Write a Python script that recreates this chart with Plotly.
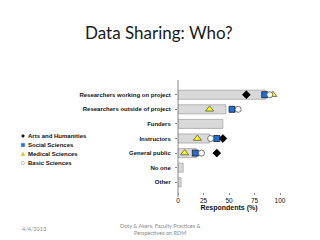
import plotly.graph_objects as go

categories = ["Researchers working on project", "Researchers outside of project", "Funders",
              "Instructors", "General public", "No one", "Other"]
overall = [86, 47, 44, 31, 18, 5, 3]
arts = [67, None, None, 44, 38, None, None]
social = [85, 53, None, 38, 17, None, None]
medical = [93, 31, None, 19, 6.5, None, None]
basic = [90, 59, None, 32, 23, None, None]
x_ticks = [0, 25, 50, 75, 100]

L, R, T, B, W, H = 178, 40, 85, 48, 320, 240
PW, PH = W - L - R, H - T - B


def px(x):
    return (x - L) / PW


def py(y):
    return (H - B - y) / PH


fig = go.Figure()
fig.add_trace(go.Bar(y=categories, x=overall, orientation="h", width=0.62,
                     marker=dict(color="#d9d9d9", line=dict(color="#a6a6a6", width=0.8)),
                     showlegend=False, hoverinfo="skip"))
series = [
    ("Arts and Humanities", arts, "diamond", "#000000", "#000000", 6),
    ("Social Sciences", social, "square", "#1f6fd6", "#1a1a1a", 6),
    ("Medical Sciences", medical, "triangle-up", "#ffff00", "#555555", 7),
    ("Basic Sciences", basic, "circle", "#ffffff", "#555555", 6),
]
for name, vals, sym, fill, edge, sz in series:
    fig.add_trace(go.Scatter(y=categories, x=vals, mode="markers", name=name, showlegend=False,
                             marker=dict(symbol=sym, color=fill, size=sz,
                                         line=dict(color=edge, width=0.8))))

fig.update_layout(
    width=W, height=H,
    margin=dict(l=L, r=R, t=T, b=B),
    paper_bgcolor="white", plot_bgcolor="white",
    font=dict(family="Liberation Sans, Arial", color="#111111"),
    showlegend=False,
    xaxis=dict(range=[0, 100], tickvals=x_ticks, ticks="outside", ticklen=2,
               tickcolor="#888888", showgrid=False, zeroline=False, showline=False,
               tickfont=dict(size=6.5, family="Liberation Sans, Arial", color="#111111"),
               title=dict(text="<b>Respondents (%)</b>", standoff=1,
                          font=dict(size=7, family="Liberation Sans, Arial", color="#111111"))),
    yaxis=dict(autorange="reversed", showline=False,
               ticks="outside", ticklen=2, tickcolor="#888888", showgrid=False,
               tickfont=dict(size=6, family="Liberation Sans, Arial", color="#111111"),
               ticklabelstandoff=3),
    bargap=0.38,
)
fig.update_yaxes(tickvals=categories, ticktext=["<b>%s</b>" % c for c in categories])

# y axis line spanning slightly beyond the plotted rows
fig.add_shape(type="line", xref="paper", yref="paper", x0=0, x1=0, y0=py(197), y1=py(80),
              line=dict(color="#888888", width=1))

# manual compact legend
leg_y = [136, 145, 154, 163]
mx, ms = 23, 1.6
for (name, vals, sym, fill, edge, sz), yy in zip(series, leg_y):
    x0, x1 = px(mx - ms), px(mx + ms)
    y0, y1 = py(yy + ms), py(yy - ms)
    xc, yc = px(mx), py(yy)
    if sym == "square":
        fig.add_shape(type="rect", xref="paper", yref="paper", x0=x0, x1=x1, y0=y0, y1=y1,
                      fillcolor=fill, line=dict(color=fill, width=0.5))
    elif sym == "circle":
        fig.add_shape(type="circle", xref="paper", yref="paper", x0=x0, x1=x1, y0=y0, y1=y1,
                      fillcolor=fill, line=dict(color="#999999", width=0.5))
    elif sym == "diamond":
        path = "M %f %f L %f %f L %f %f L %f %f Z" % (xc, y1, x1, yc, xc, y0, x0, yc)
        fig.add_shape(type="path", xref="paper", yref="paper", path=path,
                      fillcolor=fill, line=dict(color=fill, width=0.5))
    else:
        path = "M %f %f L %f %f L %f %f Z" % (xc, y1, x1, y0, x0, y0)
        fig.add_shape(type="path", xref="paper", yref="paper", path=path,
                      fillcolor="#e0e000", line=dict(color="#b0a000", width=0.5))
    fig.add_annotation(text="<b>%s</b>" % name, xref="paper", yref="paper",
                       x=px(25.5), y=py(yy), xanchor="left", yanchor="middle", showarrow=False,
                       font=dict(size=6, family="Liberation Sans, Arial", color="#111111"))

fig.add_annotation(text="Data Sharing: Who?", xref="paper", yref="paper",
                   x=px(159), y=py(32), xanchor="center", yanchor="middle",
                   showarrow=False, font=dict(size=17, family="Lato", color="#1a1a1a"))
fig.add_annotation(text="Doty & Akers, Faculty Practices &<br>Perspectives on RDM", xref="paper", yref="paper",
                   x=px(160), y=py(229), xanchor="center", yanchor="middle",
                   showarrow=False, font=dict(size=5.5, family="Lato", color="#8a8a8a"))
fig.add_annotation(text="4/4/2013", xref="paper", yref="paper",
                   x=px(20), y=py(229), xanchor="left", yanchor="middle",
                   showarrow=False, font=dict(size=5.5, family="Lato", color="#8a8a8a"))

fig.write_html("out.html")
